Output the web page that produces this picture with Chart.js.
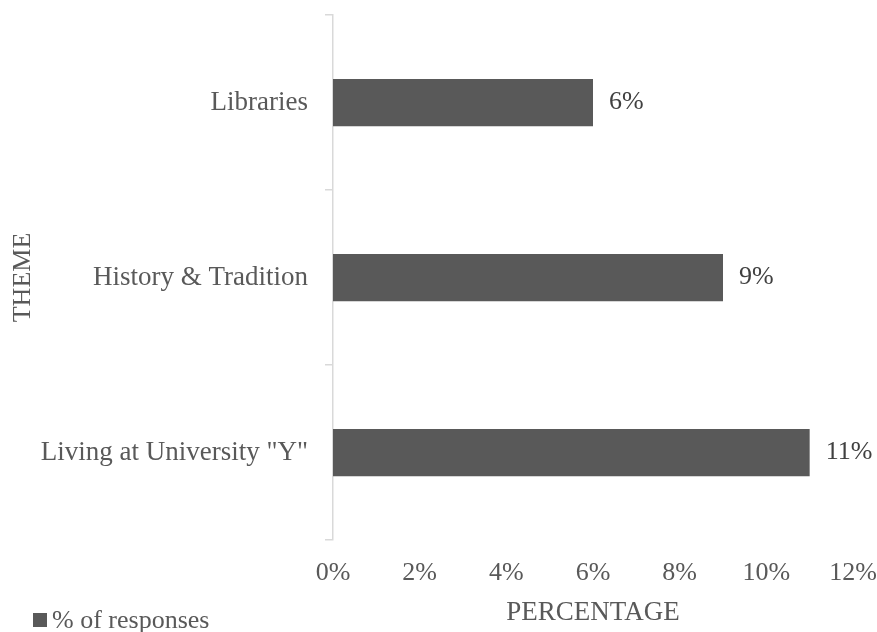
<!DOCTYPE html>
<html>
<head>
<meta charset="utf-8">
<script src="https://cdn.jsdelivr.net/npm/chart.js@4"></script>
<style>
  html, body { margin: 0; padding: 0; background: #fff; }
  #wrap { width: 877px; height: 632px; position: relative; }
</style>
</head>
<body>
<div id="wrap"><canvas id="chart_theme"></canvas></div>
<script>
// data
var themes = ['Libraries', 'History & Tradition', 'Living at University "Y"'];
var responses = [6, 9, 11];
var seriesName = '% of responses';
var xTicks = [0, 2, 4, 6, 8, 10, 12];

var barColor = '#595959';
var textColor = '#595959';
var fontFam = '"Liberation Serif", "Times New Roman", serif';

// value labels at the end of each bar + legend in the bottom left corner
var extras = {
    id: 'extras',
    afterDatasetsDraw: function(chart) {
        var ctx = chart.ctx;
        var meta = chart.getDatasetMeta(0);
        ctx.save();
        ctx.font = '26px ' + fontFam;
        ctx.fillStyle = '#404040';
        ctx.textBaseline = 'middle';
        ctx.textAlign = 'left';
        meta.data.forEach(function(bar, i) {
            ctx.fillText(responses[i] + '%', bar.x + 16, bar.y);
        });
        // legend
        ctx.fillStyle = barColor;
        ctx.fillRect(33, 613, 14, 14);
        ctx.fillStyle = textColor;
        ctx.fillText(chart.data.datasets[0].label, 52, 621);
        ctx.restore();
    }
};

var ctxTheme = document.getElementById('chart_theme').getContext('2d');
var chartTheme = new Chart(ctxTheme, {
    type: 'bar',
    data: {
        labels: themes,
        datasets: [{
            label: seriesName,
            data: responses,
            backgroundColor: barColor,
            borderWidth: 0,
            categoryPercentage: 0.27,
            barPercentage: 1
        }]
    },
    options: {
        indexAxis: 'y',
        responsive: true,
        maintainAspectRatio: false,
        animation: false,
        layout: { padding: { top: 15, right: 24, left: 0, bottom: 0 } },
        plugins: {
            legend: { display: false },
            tooltip: { enabled: false }
        },
        scales: {
            x: {
                min: 0,
                max: 12,
                afterBuildTicks: function(axis) {
                    axis.ticks = xTicks.map(function(v) { return { value: v }; });
                },
                afterFit: function(axis) {
                    axis.height = 92;
                    axis.paddingLeft = 0;
                    axis.paddingRight = 0;
                },
                grid: { display: false },
                border: { display: false },
                ticks: {
                    color: textColor,
                    font: { family: fontFam, size: 26 },
                    padding: 10,
                    maxRotation: 0,
                    callback: function(v) { return v + '%'; }
                },
                title: {
                    display: true,
                    text: 'PERCENTAGE',
                    color: textColor,
                    font: { family: fontFam, size: 27 },
                    padding: { top: 5, bottom: 3 }
                }
            },
            y: {
                afterFit: function(axis) {
                    axis.width = 333;
                    axis.paddingTop = 0;
                    axis.paddingBottom = 0;
                },
                grid: {
                    display: true,
                    offset: true,
                    drawOnChartArea: false,
                    drawTicks: true,
                    tickLength: 8,
                    color: '#d9d9d9',
                    lineWidth: 1.5
                },
                border: { display: true, color: '#d9d9d9', width: 1.5 },
                ticks: {
                    color: textColor,
                    font: { family: fontFam, size: 27 },
                    padding: 17
                },
                title: {
                    display: true,
                    text: 'THEME',
                    color: textColor,
                    font: { family: fontFam, size: 26 },
                    padding: { top: 8, bottom: 0 }
                }
            }
        }
    },
    plugins: [extras]
});
</script>
</body>
</html>
